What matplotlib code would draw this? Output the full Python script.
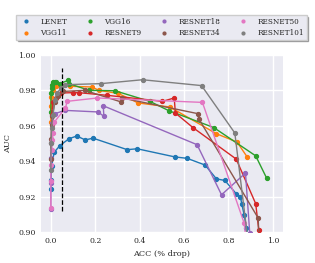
import matplotlib
matplotlib.use("Agg")
import matplotlib.pyplot as plt
import seaborn as sns
from matplotlib.lines import Line2D

names = ["LENET", "VGG11", "VGG16", "RESNET9", "RESNET18", "RESNET34", "RESNET50", "RESNET101"]

lenet_x = [0.0, 0.001, 0.003, 0.015, 0.04, 0.082, 0.117, 0.155, 0.19, 0.344, 0.389, 0.559, 0.614, 0.695, 0.746, 0.784, 0.836, 0.854, 0.86, 0.871, 0.881, 0.89]
lenet_y = [0.9245, 0.9295, 0.937, 0.945, 0.9487, 0.9527, 0.9542, 0.952, 0.953, 0.9465, 0.947, 0.9424, 0.9416, 0.9378, 0.930, 0.9291, 0.9215, 0.920, 0.916, 0.9096, 0.9024, 0.895]

vgg11_x = [0.0, 0.0, 0.002, 0.01, 0.023, 0.033, 0.048, 0.085, 0.186, 0.216, 0.303, 0.393, 0.536, 0.746, 0.839, 0.884]
vgg11_y = [0.962, 0.9713, 0.9765, 0.980, 0.9823, 0.9832, 0.983, 0.9823, 0.9819, 0.980, 0.9783, 0.9729, 0.9706, 0.9555, 0.9508, 0.9425]

vgg16_x = [0.0, 0.001, 0.003, 0.006, 0.011, 0.018, 0.024, 0.04, 0.078, 0.081, 0.173, 0.288, 0.446, 0.532, 0.734, 0.923, 0.972]
vgg16_y = [0.968, 0.9783, 0.9813, 0.983, 0.9845, 0.985, 0.9847, 0.9838, 0.9856, 0.9838, 0.980, 0.9798, 0.9738, 0.9685, 0.959, 0.943, 0.9305]

resnet9_x = [0.003, 0.01, 0.023, 0.033, 0.044, 0.098, 0.126, 0.254, 0.503, 0.556, 0.561, 0.641, 0.835, 0.923, 0.937, 0.945]
resnet9_y = [0.966, 0.9732, 0.9757, 0.9776, 0.9785, 0.9787, 0.9787, 0.9772, 0.9738, 0.9757, 0.9672, 0.9589, 0.9412, 0.916, 0.901, 0.890]

resnet18_x = [0.0, 0.0, 0.002, 0.007, 0.018, 0.063, 0.213, 0.239, 0.236, 0.659, 0.769, 0.877, 0.896, 0.902]
resnet18_y = [0.913, 0.9277, 0.942, 0.9616, 0.9668, 0.9687, 0.9678, 0.9653, 0.9713, 0.9493, 0.921, 0.9333, 0.8996, 0.890]

resnet34_x = [0.0, 0.0, 0.001, 0.003, 0.006, 0.018, 0.033, 0.055, 0.153, 0.318, 0.321, 0.664, 0.667, 0.934, 0.94]
resnet34_y = [0.9412, 0.950, 0.9527, 0.9606, 0.9653, 0.9732, 0.9766, 0.9794, 0.980, 0.9734, 0.9757, 0.9668, 0.9638, 0.9079, 0.890]

resnet50_x = [0.0, 0.0, 0.0, 0.003, 0.007, 0.01, 0.015, 0.066, 0.073, 0.21, 0.683, 0.871, 0.885]
resnet50_y = [0.9138, 0.9286, 0.938, 0.9465, 0.952, 0.956, 0.962, 0.970, 0.9738, 0.9757, 0.9732, 0.905, 0.890]

resnet101_x = [0.0, 0.001, 0.003, 0.01, 0.018, 0.026, 0.048, 0.063, 0.225, 0.413, 0.679, 0.829, 0.893]
resnet101_y = [0.935, 0.950, 0.9587, 0.966, 0.9747, 0.9785, 0.9813, 0.9832, 0.9838, 0.986, 0.9827, 0.9559, 0.890]

series_x = [lenet_x, vgg11_x, vgg16_x, resnet9_x, resnet18_x, resnet34_x, resnet50_x, resnet101_x]
series_y = [lenet_y, vgg11_y, vgg16_y, resnet9_y, resnet18_y, resnet34_y, resnet50_y, resnet101_y]

xticks = [0.0, 0.2, 0.4, 0.6, 0.8, 1.0]
yticks = [0.90, 0.92, 0.94, 0.96, 0.98, 1.00]

sns.set_theme(style="darkgrid", font="serif")
plt.rcParams["font.family"] = ["DejaVu Serif"]

fig = plt.figure(figsize=(3.15, 2.63), dpi=100)
ax = fig.add_axes([0.129, 0.118, 0.768, 0.673])

colors = sns.color_palette("tab10", 8)
for i, name in enumerate(names):
    ax.plot(series_x[i], series_y[i], marker="o", ms=2.8, lw=1.0, color=colors[i], label=name)

ax.vlines(0.05, 0.912, 0.9925, colors="black", linestyles="--", lw=0.9)

ax.set_xlim(-0.046, 1.044)
ax.set_ylim(0.90, 1.00)
ax.set_xticks(xticks)
ax.set_yticks(yticks)
ax.set_xticklabels([f"{t:.1f}" for t in xticks], fontsize=5.6)
ax.set_yticklabels([f"{t:.2f}" for t in yticks], fontsize=5.6)
ax.tick_params(axis="both", pad=3.5, length=0)
ax.set_xlabel("ACC (% drop)", fontsize=5.9)
ax.set_ylabel("AUC", fontsize=5.9)
ax.yaxis.set_label_coords(-0.119, 0.5)
ax.xaxis.set_label_coords(0.5, -0.102)
for s in ax.spines.values():
    s.set_visible(False)

handles = [Line2D([], [], marker="o", ls="", ms=2.0, color=colors[i]) for i in range(8)]
fig.legend(handles, names, loc="upper center", bbox_to_anchor=(0.513, 0.943), ncol=4,
           fontsize=5.25, frameon=True, shadow={"ox": 1.2, "oy": -1.2, "alpha": 0.45},
           fancybox=False, handletextpad=1.1,
           columnspacing=2.2, borderpad=0.35, labelspacing=0.5, handlelength=1.8,
           borderaxespad=0.0)

fig.savefig("out.png", dpi=100)
